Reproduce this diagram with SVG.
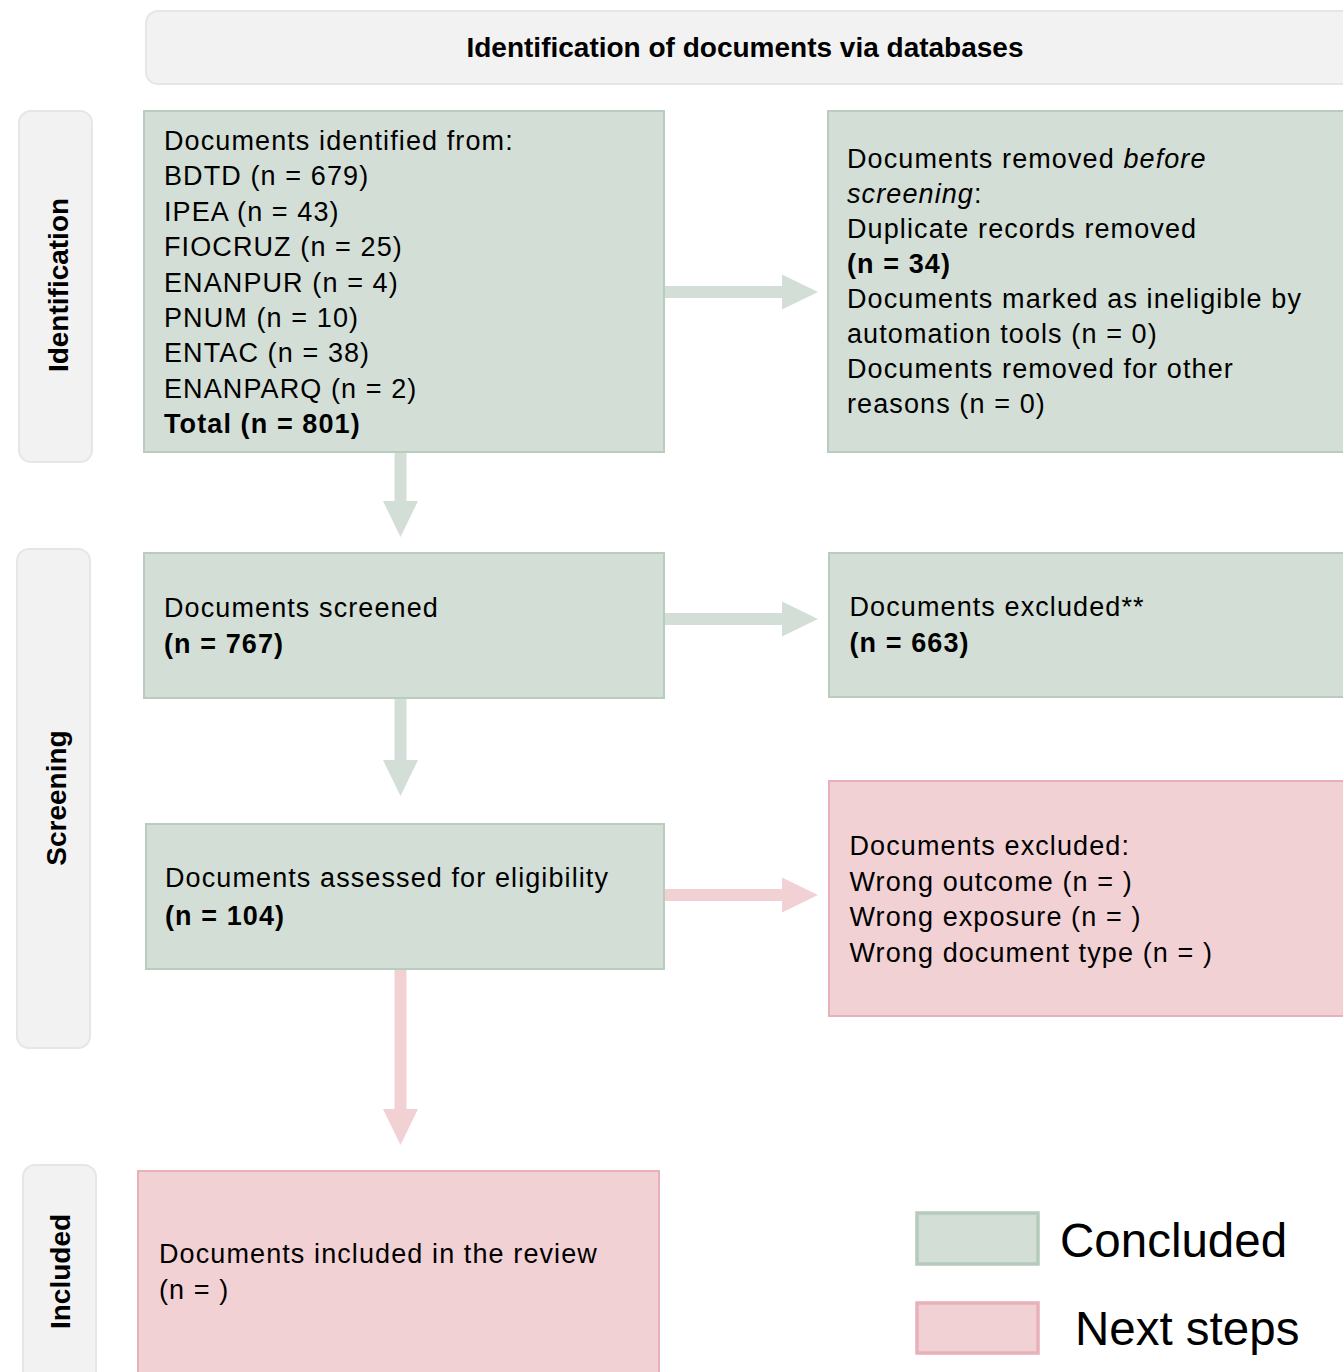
<svg xmlns="http://www.w3.org/2000/svg" width="1343" height="1372" viewBox="0 0 1343 1372">
<style>
.bg{fill:#ffffff}
.green{fill:#d3ded6;stroke:#b9cdbf;stroke-width:2}
.pink{fill:#f2d1d5;stroke:#e8b0b8;stroke-width:2}
.side{fill:#f2f2f2;stroke:#e6e6e6;stroke-width:2}
.t{font-family:"Liberation Sans",Arial,sans-serif;font-size:27px;letter-spacing:1.1px;fill:#000}
.b{font-weight:bold}
.i{font-style:italic}
.hdr{font-family:"Liberation Sans",Arial,sans-serif;font-size:28px;font-weight:bold;fill:#000}
.lg{font-family:"Liberation Sans",Arial,sans-serif;font-size:47.5px;fill:#000}
.ga{fill:#d3ded6}
.pa{fill:#f2d1d5}
.lgg{fill:#d3ded6;stroke:#b5cbbb;stroke-width:3.5}
.lgp{fill:#f2d1d5;stroke:#e8b0b8;stroke-width:3.5}
</style>
<rect class="bg" x="0" y="0" width="1343" height="1372"/>

<g id="header">
<rect class="side" x="146" y="11" width="1210" height="73" rx="12"/>
<text class="hdr" x="745" y="57" text-anchor="middle">Identification of documents via databases</text>
</g>

<g id="label-identification">
<rect class="side" x="19" y="111" width="73" height="351" rx="12"/>
<text class="hdr" transform="translate(67.5,285) rotate(-90)" text-anchor="middle">Identification</text>
</g>
<g id="label-screening">
<rect class="side" x="17" y="549" width="73" height="499" rx="12"/>
<text class="hdr" transform="translate(65.5,798) rotate(-90)" text-anchor="middle">Screening</text>
</g>
<g id="label-included">
<rect class="side" x="23" y="1165" width="73" height="220" rx="12"/>
<text class="hdr" transform="translate(70,1271.5) rotate(-90)" text-anchor="middle">Included</text>
</g>

<g id="identified">
<rect class="green" x="144" y="111" width="520" height="341"/>
<text class="t" x="164" y="150">Documents identified from:</text>
<text class="t" x="164" y="185.4">BDTD (n = 679)</text>
<text class="t" x="164" y="220.8">IPEA (n = 43)</text>
<text class="t" x="164" y="256.2">FIOCRUZ (n = 25)</text>
<text class="t" x="164" y="291.6">ENANPUR (n = 4)</text>
<text class="t" x="164" y="327">PNUM (n = 10)</text>
<text class="t" x="164" y="362.4">ENTAC (n = 38)</text>
<text class="t" x="164" y="397.8">ENANPARQ (n = 2)</text>
<text class="t b" x="164" y="433.2">Total (n = 801)</text>
</g>

<g id="removed">
<rect class="green" x="828" y="111" width="530" height="341"/>
<text class="t" x="847" y="168">Documents removed <tspan class="i">before</tspan></text>
<text class="t" x="847" y="203"><tspan class="i">screening</tspan>:</text>
<text class="t" x="847" y="238">Duplicate records removed</text>
<text class="t b" x="847" y="273">(n = 34)</text>
<text class="t" x="847" y="308">Documents marked as ineligible by</text>
<text class="t" x="847" y="343">automation tools (n = 0)</text>
<text class="t" x="847" y="378">Documents removed for other</text>
<text class="t" x="847" y="413">reasons (n = 0)</text>
</g>

<g id="screened">
<rect class="green" x="144" y="553" width="520" height="145"/>
<text class="t" x="164" y="617">Documents screened</text>
<text class="t b" x="164" y="653">(n = 767)</text>
</g>

<g id="excluded1">
<rect class="green" x="829" y="553" width="530" height="144"/>
<text class="t" x="849.5" y="616">Documents excluded**</text>
<text class="t b" x="849.5" y="652">(n = 663)</text>
</g>

<g id="assessed">
<rect class="green" x="146" y="824" width="518" height="145"/>
<text class="t" x="165" y="887">Documents assessed for eligibility</text>
<text class="t b" x="165" y="925">(n = 104)</text>
</g>

<g id="excluded2">
<rect class="pink" x="829" y="781" width="530" height="235"/>
<text class="t" x="849.5" y="855">Documents excluded:</text>
<text class="t" x="849.5" y="890.5">Wrong outcome (n = )</text>
<text class="t" x="849.5" y="926">Wrong exposure (n = )</text>
<text class="t" x="849.5" y="961.5">Wrong document type (n = )</text>
</g>

<g id="included">
<rect class="pink" x="138" y="1171" width="521" height="215"/>
<text class="t" x="159" y="1263">Documents included in the review</text>
<text class="t" x="159" y="1299">(n = )</text>
</g>

<g id="connectors">
<path class="ga" d="M665,286 H782 V274.5 L818,292 L782,309.5 V298 H665 Z"/>
<path class="ga" d="M665,613 H782 V601.5 L818,619 L782,636.5 V625 H665 Z"/>
<path class="pa" d="M665,889 H782 V877.5 L818,895 L782,912.5 V901 H665 Z"/>
<path class="ga" d="M394.5,453 V501 H383 L400.5,537 L418,501 H406.5 V453 Z"/>
<path class="ga" d="M394.5,699 V760 H383 L400.5,796 L418,760 H406.5 V699 Z"/>
<path class="pa" d="M394.5,970 V1109 H383 L400.5,1145 L418,1109 H406.5 V970 Z"/>
</g>

<g id="legend-concluded">
<rect class="lgg" x="917" y="1213" width="121" height="51"/>
<text class="lg" x="1060" y="1256.5">Concluded</text>
</g>
<g id="legend-next">
<rect class="lgp" x="917" y="1303" width="121" height="50"/>
<text class="lg" x="1075" y="1345">Next steps</text>
</g>
</svg>
